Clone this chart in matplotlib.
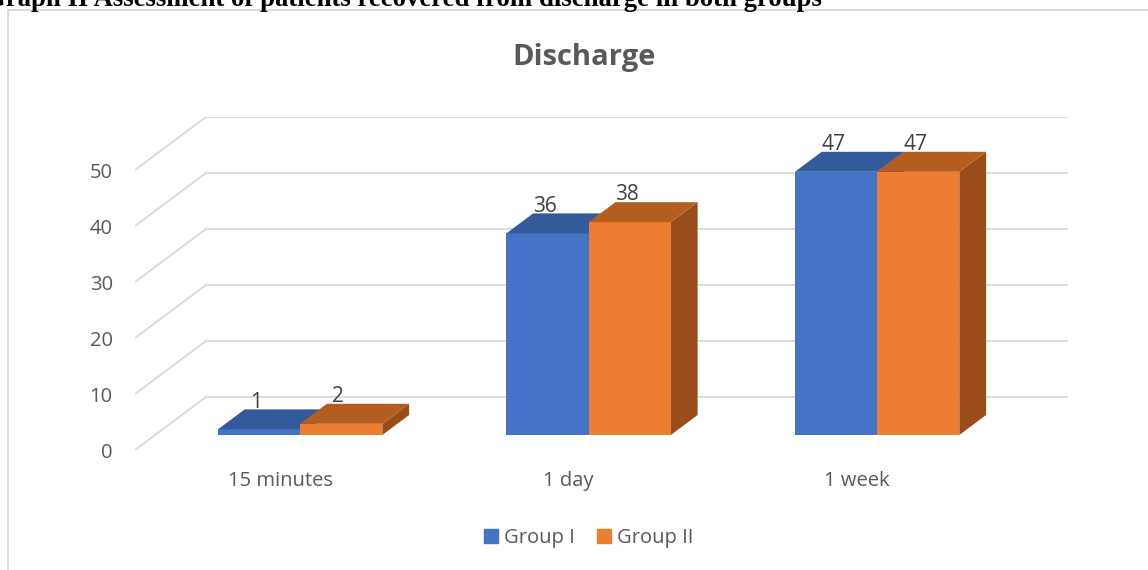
import matplotlib
matplotlib.use("Agg")
import matplotlib.pyplot as plt
from matplotlib.lines import Line2D
from matplotlib.patches import Patch

# data
categories = ["15 minutes", "1 day", "1 week"]
group1 = [1, 36, 47]
group2 = [2, 38, 47]
series_names = ["Group I", "Group II"]
y_ticks = [0, 10, 20, 30, 40, 50]

plt.rcParams["font.family"] = ["Open Sans", "DejaVu Sans"]

W, H = 1148, 570
fig = plt.figure(figsize=(W / 100, H / 100), dpi=100)

# pixel geometry of the plot (front plane)
PX_CAT, PX_UNIT = 288.5, 5.6
x0_px, x1_px, yb_px, yt_px = 135, 1068, 450, 117
ax = fig.add_axes([x0_px / W, (H - yb_px) / H, (x1_px - x0_px) / W, (yb_px - yt_px) / H])
xlo = (x0_px - 280) / PX_CAT
xhi = (x1_px - 280) / PX_CAT
ax.set_xlim(xlo, xhi)
ax.set_ylim(0, (yb_px - yt_px) / PX_UNIT)

# depth projection (full floor depth) in data units
DX = 71 / PX_CAT
DY = 53 / PX_UNIT
Z0, Z1 = 15 / 53, 35 / 53  # bar front / back depth
BW = 0.285

grid_c = "#d9d9d9"
for v in y_ticks:
    ax.plot([xlo, xlo + DX, xhi], [v, v + DY, v + DY], color=grid_c, lw=1.3,
            solid_capstyle="butt", zorder=1)

face = {"Group I": ("#4472c4", "#335a9a", "#2b4c84"),
        "Group II": ("#ed7d31", "#b55d21", "#9a4d1b")}

txt_c = "#595959"
for i, cat in enumerate(categories):
    for k, (name, vals) in enumerate(zip(series_names, [group1, group2])):
        v = vals[i]
        a = i - BW + k * BW
        b = a + BW
        fc, tc, sc = face[name]
        front = [(a + Z0 * DX, Z0 * DY), (b + Z0 * DX, Z0 * DY),
                 (b + Z0 * DX, v + Z0 * DY), (a + Z0 * DX, v + Z0 * DY)]
        top = [(a + Z0 * DX, v + Z0 * DY), (b + Z0 * DX, v + Z0 * DY),
               (b + Z1 * DX, v + Z1 * DY), (a + Z1 * DX, v + Z1 * DY)]
        side = [(b + Z0 * DX, Z0 * DY), (b + Z1 * DX, Z1 * DY),
                (b + Z1 * DX, v + Z1 * DY), (b + Z0 * DX, v + Z0 * DY)]
        for poly, c in ((side, sc), (front, fc), (top, tc)):
            xs, ys = zip(*poly)
            ax.fill(xs, ys, color=c, lw=0, zorder=2 + i)
        ax.text((a + b) / 2 + Z0 * DX - 0.01, v + Z1 * DY + 1.3, str(v),
                ha="center", va="center", fontsize=15, color="#404040", zorder=10)
    ax.text(i, -5.5, cat, ha="center", va="center", fontsize=14.5, color=txt_c)

ax.set_yticks(y_ticks)
ax.set_yticklabels([str(t) for t in y_ticks])
ax.set_xticks([])
ax.tick_params(axis="y", length=0, pad=16, labelsize=14.5, labelcolor=txt_c)
for s in ax.spines.values():
    s.set_visible(False)
ax.patch.set_alpha(0)

fig.text(584 / W, 1 - 57 / H, "Discharge", ha="center", va="center",
         fontsize=21, fontweight="bold", color=txt_c)

handles = [Patch(color=face[n][0]) for n in series_names]
fig.legend(handles, series_names, loc="center", bbox_to_anchor=(589 / W, 1 - 538 / H),
           ncol=2, frameon=False, fontsize=14.5, labelcolor=txt_c,
           handlelength=0.7, handleheight=0.7, handletextpad=0.3,
           columnspacing=1.1)

# chart frame and clipped caption above it
fig.add_artist(Line2D([8 / W, 1], [1 - 10 / H] * 2, color=grid_c, lw=1.3,
                      transform=fig.transFigure))
fig.add_artist(Line2D([8 / W, 8 / W], [0, 1 - 10 / H], color=grid_c, lw=1.3,
                      transform=fig.transFigure))
fig.text(-15 / W, 1 - 6 / H, "Graph II Assessment of patients recovered from discharge in both groups",
         ha="left", va="baseline", fontsize=19.3, fontweight="bold",
         family="Liberation Serif", color="black")

fig.savefig("out.png", dpi=100)
